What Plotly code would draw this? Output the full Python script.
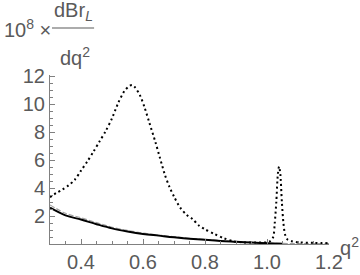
import plotly.graph_objects as go

# dotted curve (resonance-dominated)
q2_dot = [0.30, 0.32, 0.34, 0.36, 0.38, 0.40, 0.42, 0.44, 0.46, 0.48, 0.50, 0.52,
          0.54, 0.555, 0.565, 0.575, 0.59, 0.605, 0.62, 0.64, 0.655, 0.67, 0.685,
          0.70, 0.72, 0.74, 0.76, 0.78, 0.80, 0.83, 0.86, 0.89, 0.92, 0.96,
          1.00, 1.01, 1.02, 1.025, 1.03, 1.035, 1.039, 1.043, 1.048, 1.053, 1.058,
          1.065, 1.08, 1.10, 1.15, 1.20]
br_dot = [3.35, 3.65, 3.9, 4.2, 4.6, 5.25, 5.9, 6.6, 7.35, 8.1, 9.0, 10.1,
          10.95, 11.3, 11.38, 11.2, 10.66, 9.78, 8.72, 7.3, 6.14, 5.0, 4.1,
          3.4, 2.6, 2.1, 1.78, 1.33, 1.05, 0.72, 0.42, 0.2, 0.12, 0.1,
          0.12, 0.2, 0.5, 1.5, 3.0, 5.0, 5.55, 5.0, 3.0, 1.5, 0.7,
          0.35, 0.2, 0.12, 0.08, 0.06]

# solid black curve
q2_solid = [0.30, 0.35, 0.40, 0.45, 0.50, 0.55, 0.60, 0.65, 0.70, 0.75, 0.80,
            0.85, 0.90, 0.95, 1.00, 1.05]
br_solid = [2.6, 2.05, 1.75, 1.42, 1.12, 0.9, 0.72, 0.6, 0.48, 0.38, 0.3,
            0.22, 0.16, 0.1, 0.05, 0.02]

# gray dashed curve
q2_gray = [0.30, 0.35, 0.40, 0.45, 0.50, 0.55, 0.60, 0.65, 0.70, 0.75, 0.80,
           0.85, 0.90, 0.95, 1.00, 1.05, 1.10, 1.15, 1.20]
br_gray = [2.8, 2.2, 1.88, 1.53, 1.2, 0.97, 0.78, 0.64, 0.52, 0.41, 0.32,
           0.24, 0.17, 0.11, 0.06, 0.04, 0.03, 0.03, 0.03]

x_ticks = [0.4, 0.6, 0.8, 1.0, 1.2]
x_ticklabels = ["0.4", "0.6", "0.8", "1.0", "1.2"]
y_ticks = [2, 4, 6, 8, 10, 12]
y_ticklabels = ["2", "4", "6", "8", "10", "12"]

TXT = "#5a5a5a"
AX = "#808080"
FONT = "Liberation Sans, Arial, sans-serif"
FS = 20

fig = go.Figure()
fig.add_trace(go.Scatter(x=q2_gray, y=br_gray, mode="lines",
                         line=dict(color="#a0a0a0", width=1.2, dash="5px,2px", shape="spline"),
                         hoverinfo="skip"))
fig.add_trace(go.Scatter(x=q2_solid, y=br_solid, mode="lines",
                         line=dict(color="black", width=2, shape="spline"),
                         hoverinfo="skip"))
fig.add_trace(go.Scatter(x=q2_dot, y=br_dot, mode="lines",
                         line=dict(color="black", width=2, dash="2px,3px", shape="spline", smoothing=0.8),
                         hoverinfo="skip"))

axis_common = dict(showgrid=False, zeroline=False, showline=True, linecolor=AX, linewidth=1,
                   ticks="inside", ticklen=5, tickcolor=AX, tickwidth=1, automargin=False,
                   tickfont=dict(size=FS, color=TXT, family=FONT))

fig.update_layout(
    template="none",
    width=360, height=275,
    margin=dict(l=50, r=31, t=75, b=31, pad=0),
    paper_bgcolor="white", plot_bgcolor="white",
    showlegend=False,
    font=dict(family=FONT, size=FS, color=TXT),
    xaxis=dict(range=[0.3, 1.2], tickvals=x_ticks, ticktext=x_ticklabels,
               minor=dict(dtick=0.05, tick0=0.3, ticks="inside", ticklen=3, tickcolor=AX, showgrid=False),
               **axis_common),
    yaxis=dict(range=[0, 12.1], tickvals=y_ticks, ticktext=y_ticklabels,
               minor=dict(dtick=0.5, tick0=0, ticks="inside", ticklen=3, tickcolor=AX, showgrid=False),
               **axis_common),
)

# y-axis label as fraction
fig.add_annotation(xref="paper", yref="paper", x=-0.172, y=1.278, xanchor="left", yanchor="middle",
                   text="10<sup>8</sup> ×", showarrow=False, font=dict(size=FS, color=TXT, family=FONT))
fig.add_annotation(xref="paper", yref="paper", x=0.007, y=1.373, xanchor="left", yanchor="middle",
                   text="dBr<sub><i>L</i></sub>", showarrow=False, font=dict(size=FS, color=TXT, family=FONT))
fig.add_annotation(xref="paper", yref="paper", x=0.0287, y=1.11, xanchor="left", yanchor="middle",
                   text="dq<sup>2</sup>", showarrow=False, font=dict(size=FS, color=TXT, family=FONT))
fig.add_shape(type="line", xref="paper", yref="paper", x0=0.007, x1=0.158, y0=1.278, y1=1.278,
              line=dict(color=TXT, width=1.2))
# x-axis label
fig.add_annotation(xref="paper", yref="paper", x=1.032, y=-0.012, xanchor="left", yanchor="middle",
                   text="q<sup>2</sup>", showarrow=False, font=dict(size=FS, color=TXT, family=FONT))

fig.write_html("out.html", config={"displayModeBar": False},
               post_script="document.body.style.margin='0px';document.body.style.overflow='hidden';")
